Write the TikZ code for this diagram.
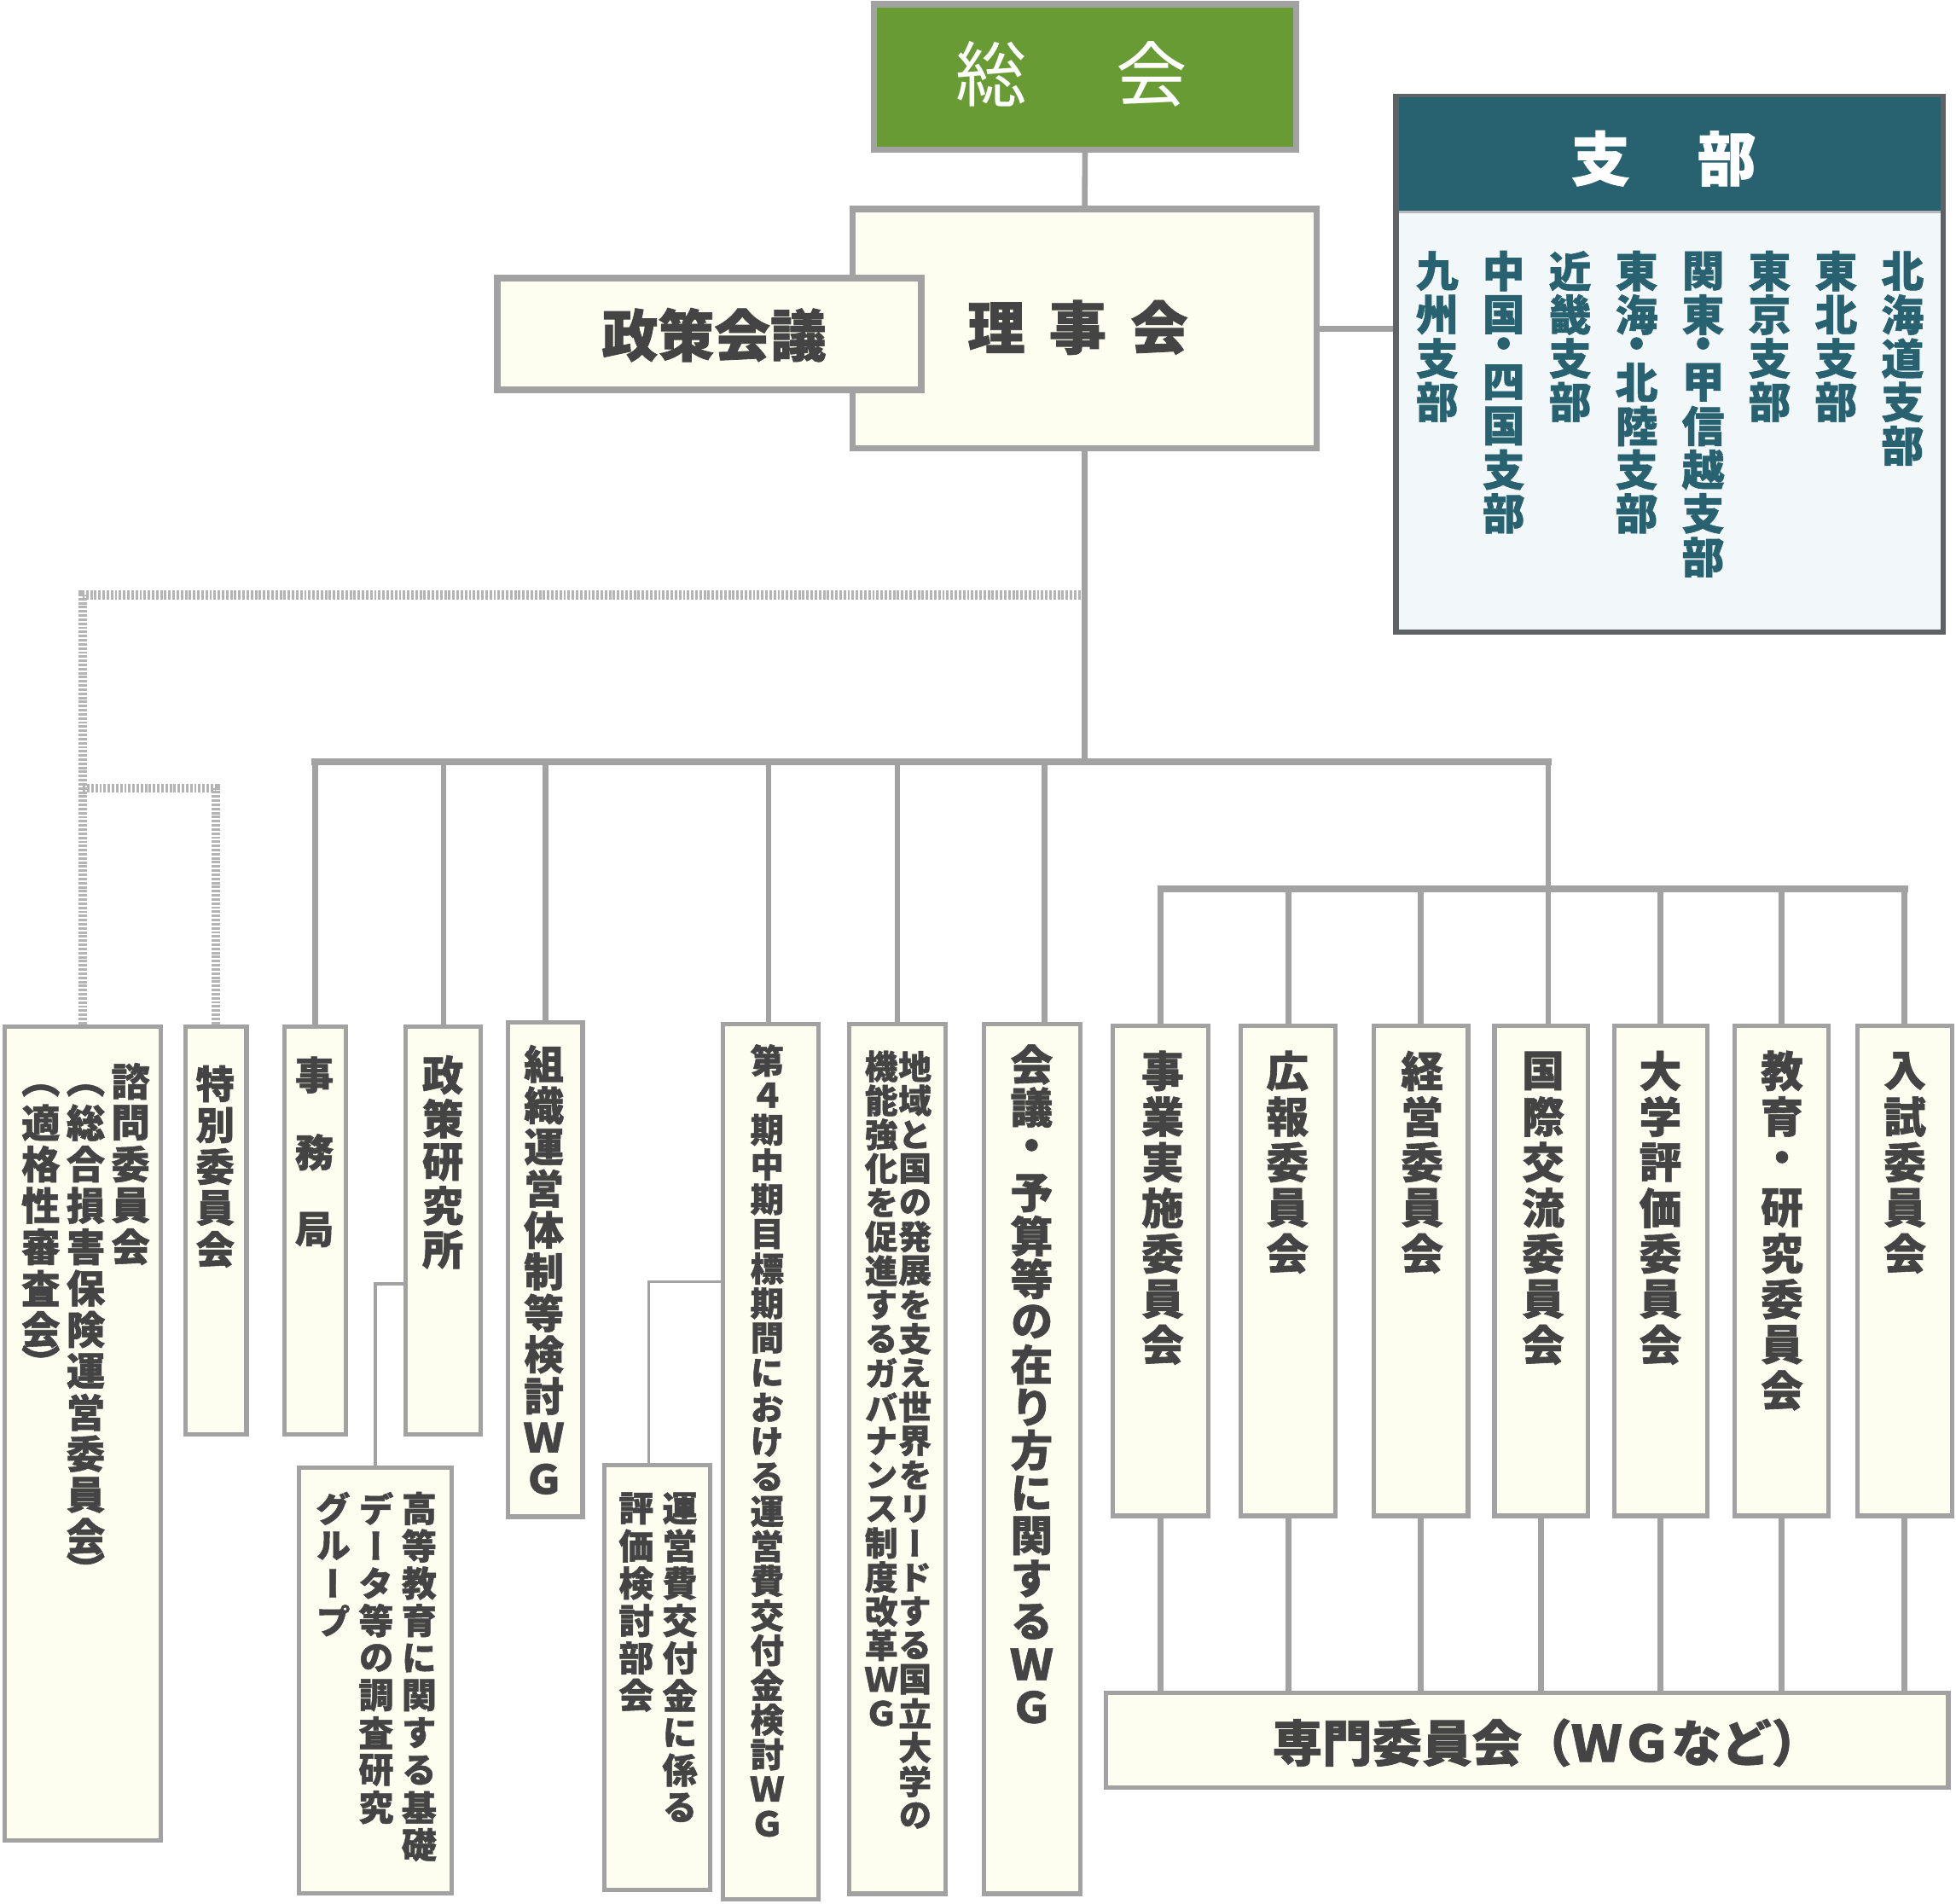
\documentclass[tikz,border=0pt]{standalone}
\usepackage{fontspec}
\setmainfont{Noto Sans CJK JP}[BoldFeatures={FakeBold=1.2}]
\newfontfamily\tatefont{Noto Sans CJK JP}[RawFeature=+vert, BoldFeatures={FakeBold=1.2}]

\definecolor{linegray}{HTML}{A2A2A2}
\definecolor{dotgray}{HTML}{B4B4B4}
\definecolor{ivory}{HTML}{FDFDF0}
\definecolor{sokaigreen}{HTML}{699B34}
\definecolor{shibuteal}{HTML}{286271}
\definecolor{shibupale}{HTML}{F2F7FA}
\definecolor{shibuborder}{HTML}{5E6166}
\definecolor{textgray}{HTML}{444444}

% vertical text: one column, characters stacked top to bottom
\ExplSyntaxOn
\NewDocumentCommand \tatecell { m m }
  {
    \vbox_to_ht:nn { \fp_eval:n {#1} em }
      { \vss \hbox_to_wd:nn { 1em } { \hss #2 \hss } \vss }
  }
\NewDocumentCommand \tate { O{1} m }
  {
    \vtop
      {
        \offinterlineskip
        \tl_map_inline:nn {#2}
          {
            \str_case:nnF {##1}
              {
                {（} { \tatecell {0.55*#1} {##1} }
                {）} { \tatecell {0.55*#1} {##1} }
                {･} { \tatecell {0.55*#1} {・} }
              }
              { \tatecell {#1} {##1} }
          }
      }
  }
\ExplSyntaxOff

\begin{document}
\begin{tikzpicture}[x=1pt,y=-1pt,
    topbox/.style={draw=linegray, line width=5pt, fill=ivory, inner sep=0pt},
    box/.style={draw=linegray, line width=3.5pt, fill=ivory, inner sep=0pt},
    tx/.style={text=textgray, inner sep=0pt, anchor=north,
      font=\tatefont\bfseries\fontsize{#1}{#1}\selectfont},
    htx/.style={text=textgray, inner sep=0pt,
      font=\bfseries\fontsize{#1}{#1}\selectfont},
    link/.style={draw=linegray, line width=4.5pt},
    bus/.style={draw=linegray, line width=5.5pt, line cap=rect},
    sublink/.style={draw=linegray, line width=2.5pt},
    dotlink/.style={draw=dotgray, line width=7pt, dash pattern=on 2pt off 1.3pt}]
\useasboundingbox (0,0) rectangle (1568,1526);

% top
\node[topbox, fill=sokaigreen, minimum width=338.5, minimum height=116.5] (sokai) at (869.8,61.75) {};
\node[text=white, inner sep=0pt, font=\fontsize{57}{57}\selectfont] (sokaitext) at (859,59.5) {総\hspace{1.25em}会};
\node[topbox, minimum width=372, minimum height=192] (rijikai) at (869.5,263.5) {};
\node[htx=46] (rijikaitext) at (864,262.5) {理\hspace{0.42em}事\hspace{0.42em}会};
\node[topbox, minimum width=340, minimum height=89.5] (seisaku) at (568.6,267.75) {};
\node[htx=45] (seisakutext) at (572.5,268.5) {政策会議};

% shibu
\node[draw=shibuborder, line width=4.5pt, fill=shibupale, inner sep=0pt,
  minimum width=438.5, minimum height=429] (shibu) at (1338.5,292.25) {};
\node[fill=shibuteal, inner sep=0pt, anchor=north, minimum width=434, minimum height=92]
  (shibuhead) at ([yshift=-2.25pt]shibu.north) {};
\draw[draw=shibuborder!45, line width=2pt] (shibuhead.south west) -- (shibuhead.south east);
\node[htx=47, text=white] (shibuheadtext) at (1333.6,127) {支\hspace{1.15em}部};
\node[tx=34, text=shibuteal] (shibulist) at (1338.6,199.5) {%
  \tate[1.03]{九州支部}\hskip19.3pt
  \tate[1.03]{中国･四国支部}\hskip19.3pt
  \tate[1.03]{近畿支部}\hskip19.3pt
  \tate[1.03]{東海･北陸支部}\hskip19.3pt
  \tate[1.03]{関東･甲信越支部}\hskip19.3pt
  \tate[1.03]{東京支部}\hskip19.3pt
  \tate[1.03]{東北支部}\hskip19.3pt
  \tate[1.03]{北海道支部}};

% lower row
\node[box, minimum width=125, minimum height=652] (shimon) at (66.5,1149.2) {};
\node[tx=31] (shimontext) at (68.7,850) {%
  \tate[1.07]{（適格性審査会）}\hskip5pt
  \tate[1.07]{（総合損害保険運営委員会）}\hskip5pt
  \tate[1.07]{諮問委員会}};
\node[box, minimum width=48.8, minimum height=327] (tokubetsu) at (173.2,986.3) {};
\node[tx=31] (tokubetsutext) at (172.5,852) {\tate[1.07]{特別委員会}};
\node[box, minimum width=49.5, minimum height=327] (jimukyoku) at (252.5,986.3) {};
\node[tx=31] (jimukyokutext) at (252,830.5) {\tate[2]{事務局}};
\node[box, minimum width=60.2, minimum height=327] (seiken) at (355.5,986.3) {};
\node[tx=33] (seikentext) at (355,844) {\tate[1.06]{政策研究所}};
\node[box, minimum width=59.7, minimum height=396] (soshiki) at (437.2,1017.8) {};
\node[tx=32] (soshikitext) at (436,836) {\tate[1.04]{組織運営体制等検討ＷＧ}};
\node[box, minimum width=122.8, minimum height=341] (kotokyoiku) at (300.9,1347.2) {};
\node[tx=28] (kotokyoikutext) at (301.5,1194) {%
  \tate[1.07]{グループ}\hskip6.5pt
  \tate[1.07]{データ等の調査研究}\hskip6.5pt
  \tate[1.07]{高等教育に関する基礎}};
\node[box, minimum width=85, minimum height=340.7] (hyoka) at (527,1344.9) {};
\node[tx=28] (hyokatext) at (527.5,1194) {%
  \tate[1.07]{評価検討部会}\hskip7pt
  \tate[1.07]{運営費交付金に係る}};
\node[box, minimum width=76.5, minimum height=701.5] (dai4ki) at (618,1171.5) {};
\node[tx=27] (dai4kitext) at (615,836) {\tate[1.03]{第４期中期目標期間における運営費交付金検討ＷＧ}};
\node[box, minimum width=77.3, minimum height=697.3] (chiiki) at (719.3,1169.4) {};
\node[tx=26.5] (chiikitext) at (720,841) {%
  \tate[1.03]{機能強化を促進するガバナンス制度改革ＷＧ}\hskip0.5pt
  \tate[1.03]{地域と国の発展を支え世界をリードする国立大学の}};
\node[box, minimum width=76.7, minimum height=697.3] (kaigi) at (827.4,1169.4) {};
\node[tx=34] (kaigitext) at (827,836) {\tate[1.01]{会議・予算等の在り方に関するＷＧ}};

% committees
\node[box, minimum width=76.7, minimum height=393] (jigyo) at (930.5,1018.6) {};
\node[tx=34] (jigyotext) at (932,840) {\tate[1.076]{事業実施委員会}};
\node[box, minimum width=76.2, minimum height=393] (koho) at (1032.7,1018.6) {};
\node[tx=34] (kohotext) at (1032,840) {\tate[1.076]{広報委員会}};
\node[box, minimum width=75.6, minimum height=393] (keiei) at (1139,1018.6) {};
\node[tx=34] (keieitext) at (1140,840) {\tate[1.076]{経営委員会}};
\node[box, minimum width=75, minimum height=393] (kokusai) at (1235.5,1018.6) {};
\node[tx=34] (kokusaitext) at (1237,840) {\tate[1.076]{国際交流委員会}};
\node[box, minimum width=74.5, minimum height=393] (hyokai) at (1331.2,1018.6) {};
\node[tx=34] (hyokaitext) at (1331,840) {\tate[1.076]{大学評価委員会}};
\node[box, minimum width=75, minimum height=393] (kyoiku) at (1428.1,1018.6) {};
\node[tx=34] (kyoikutext) at (1428.5,840) {\tate[1.076]{教育・研究委員会}};
\node[box, minimum width=75.6, minimum height=393] (nyushi) at (1526.8,1018.6) {};
\node[tx=34] (nyushitext) at (1527,840) {\tate[1.076]{入試委員会}};
\node[box, minimum width=675, minimum height=75.8] (senmon) at (1224.3,1395.2) {};
\node[htx=40] (senmontext) at (1240,1397) {専門委員会（ＷＧなど）};

% connectors
\coordinate (bus1) at (869.5,610.8);
\coordinate (bus1east) at (1241,610.8);
\coordinate (bus2) at (1241,712.5);
\coordinate (kaigijoint) at (837.3,610.8);
\coordinate (dotjoint) at (869.5,477);
\coordinate (dotjoint2) at (66.5,632);
\draw[link] (sokai.south) -- (rijikai.north);
\draw[link, line width=5pt] (rijikai.east) -- (rijikai.east -| shibu.west);
\draw[dotlink] (dotjoint) -| (shimon.north);
\draw[dotlink] (dotjoint2) -| (tokubetsu.north);
\draw[link] (rijikai.south) -- (bus1);
\draw[bus] (jimukyoku.north |- bus1) -- (bus1east);
\draw[link] (jimukyoku.north) -- (jimukyoku.north |- bus1);
\draw[link] (seiken.north) -- (seiken.north |- bus1);
\draw[link] (soshiki.north) -- (soshiki.north |- bus1);
\draw[link] ([xshift=-2pt]dai4ki.north) -- ([xshift=-2pt]dai4ki.north |- bus1);
\draw[link] (chiiki.north) -- (chiiki.north |- bus1);
\draw[link] (kaigijoint) -- (kaigijoint |- kaigi.north);
\draw[link] (bus1east) -- (bus1east |- kokusai.north);
\draw[bus] (jigyo.north |- bus2) -- (nyushi.north |- bus2);
\draw[link] (jigyo.north) -- (jigyo.north |- bus2);
\draw[link] (koho.north) -- (koho.north |- bus2);
\draw[link] (keiei.north) -- (keiei.north |- bus2);
\draw[link] (hyokai.north) -- (hyokai.north |- bus2);
\draw[link] (kyoiku.north) -- (kyoiku.north |- bus2);
\draw[link] (nyushi.north) -- (nyushi.north |- bus2);
\draw[sublink] ([yshift=-42.7pt]seiken.west) -| (kotokyoiku.north);
\draw[sublink] ([yshift=144pt]dai4ki.west) -| ([xshift=-7pt]hyoka.north);
\draw[link] (jigyo.south) -- (jigyo.south |- senmon.north);
\draw[link] (koho.south) -- (koho.south |- senmon.north);
\draw[link] (keiei.south) -- (keiei.south |- senmon.north);
\draw[link] (kokusai.south) -- (kokusai.south |- senmon.north);
\draw[link] (hyokai.south) -- (hyokai.south |- senmon.north);
\draw[link] (kyoiku.south) -- (kyoiku.south |- senmon.north);
\draw[link] (nyushi.south) -- (nyushi.south |- senmon.north);
\end{tikzpicture}
\end{document}
